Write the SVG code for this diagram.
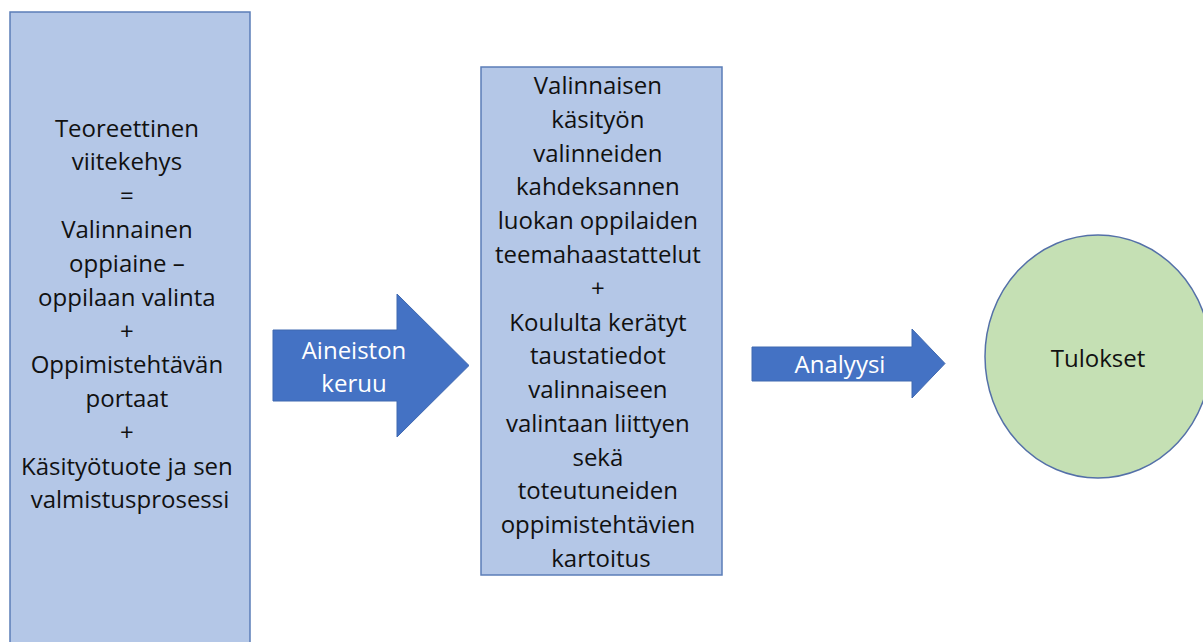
<svg xmlns="http://www.w3.org/2000/svg" width="1203" height="642" viewBox="0 0 1203 642">
<style>
.box{fill:#B4C7E7;stroke:#5B7DB8;stroke-width:1.5}
.arrow{fill:#4472C4;stroke:#3F68B0;stroke-width:1}
.circ{fill:#C5E0B4;stroke:#5470A8;stroke-width:1.5}
text{font-family:"Open Sans","Liberation Sans",Arial,sans-serif;font-size:24px;text-anchor:middle}
.dark{fill:#111111}
.light{fill:#FFFFFF}
</style>
<rect width="1203" height="642" fill="#FFFFFF"/>
<g id="theory">
<rect class="box" x="10" y="12" width="240" height="640"/>
<text class="dark">
<tspan x="130" y="137">Teoreettinen</tspan>
<tspan x="130" y="170">viitekehys</tspan>
<tspan x="130" y="204">=</tspan>
<tspan x="130" y="238">Valinnainen</tspan>
<tspan x="130" y="272">oppiaine –</tspan>
<tspan x="130" y="306">oppilaan valinta</tspan>
<tspan x="130" y="340">+</tspan>
<tspan x="130" y="373">Oppimistehtävän</tspan>
<tspan x="130" y="407">portaat</tspan>
<tspan x="130" y="441">+</tspan>
<tspan x="130" y="475">Käsityötuote ja sen</tspan>
<tspan x="130" y="508">valmistusprosessi</tspan>
</text>
</g>
<g id="data">
<rect class="box" x="481" y="67" width="241" height="508"/>
<text class="dark">
<tspan x="601" y="94">Valinnaisen</tspan>
<tspan x="601" y="128">käsityön</tspan>
<tspan x="601" y="162">valinneiden</tspan>
<tspan x="601" y="195">kahdeksannen</tspan>
<tspan x="601" y="229">luokan oppilaiden</tspan>
<tspan x="601" y="263">teemahaastattelut</tspan>
<tspan x="601" y="297">+</tspan>
<tspan x="601" y="331">Koululta kerätyt</tspan>
<tspan x="601" y="364">taustatiedot</tspan>
<tspan x="601" y="398">valinnaiseen</tspan>
<tspan x="601" y="432">valintaan liittyen</tspan>
<tspan x="601" y="466">sekä</tspan>
<tspan x="601" y="499">toteutuneiden</tspan>
<tspan x="601" y="533">oppimistehtävien</tspan>
<tspan x="601" y="567">kartoitus</tspan>
</text>
</g>
<g id="connectors">
<g id="arrow-keruu">
<polygon class="arrow" points="273,330 397,330 397,294 469,365.5 397,437 397,401 273,401"/>
<text class="light"><tspan x="354" y="359">Aineiston</tspan><tspan x="354" y="392">keruu</tspan></text>
</g>
<g id="arrow-analyysi">
<polygon class="arrow" points="752,347 912,347 912,329 945,363.5 912,398 912,381 752,381"/>
<text class="light" x="840" y="373">Analyysi</text>
</g>
</g>
<g id="results">
<ellipse class="circ" cx="1098" cy="356.5" rx="113" ry="121.5"/>
<text class="dark" x="1098" y="367">Tulokset</text>
</g>
</svg>
